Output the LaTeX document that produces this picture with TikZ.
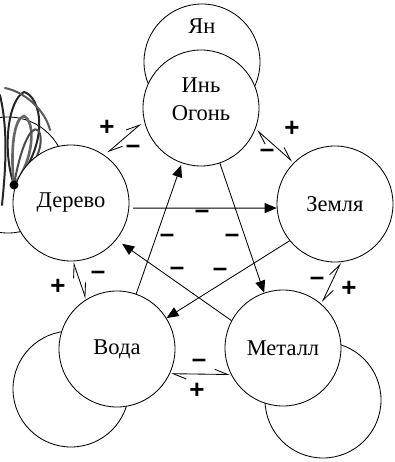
\documentclass[tikz,border=0pt]{standalone}
\usepackage{fontspec}
\setmainfont{Liberation Serif}
\newfontfamily\signfont{Liberation Sans}
\usetikzlibrary{arrows.meta}
\begin{document}
\begin{tikzpicture}[x=1pt,y=-1pt,
  elem/.style={circle,draw,fill=white,line width=0.85pt,minimum size=116pt,inner sep=0pt,font=\fontsize{22.5}{27}\selectfont},
  txt/.style={font=\fontsize{22.5}{28}\selectfont,inner sep=0pt,align=center},
  main/.style={line width=0.85pt,-{Triangle[length=12pt,width=10pt]}},
  adj/.style={line width=0.85pt,{Straight Barb[harpoon,length=13pt,width=10pt]}-{Straight Barb[harpoon,length=13pt,width=10pt]}},
  sign/.style={font=\signfont\bfseries\fontsize{26}{26}\selectfont,inner sep=0pt},
  scrib/.style={line width=2pt,black!85,line cap=round}
]
\useasboundingbox (0,0) rectangle (394,462);
\fill[white] (0,0) rectangle (394,462);
% companion circles
\node[elem] (yang) at (202,62) {};
\node[elem] (treeS) at (8,175) {};
\node[elem] (waterS) at (71,389) {};
\node[elem] (metalS) at (323,400) {};
% scribble
\draw[scrib] (14,185) .. controls (2,150) and (8,100) .. (24,92) .. controls (40,96) and (52,140) .. (14,185);
\draw[scrib,black!60,line width=2.6pt] (14,185) .. controls (10,150) and (14,118) .. (24,116) .. controls (36,122) and (34,160) .. (14,185);
\draw[scrib,black!70] (14,185) .. controls (20,150) and (30,125) .. (38,130) .. controls (46,140) and (36,170) .. (14,185);
\draw[scrib] (0,95) .. controls (8,130) and (6,165) .. (2,205);
\draw[scrib,black!65] (5,88) .. controls (25,92) and (45,110) .. (50,130);
% main circles
\node[elem] (fire) at (201,108) {};
\node[elem] (tree) at (71,203) {Дерево};
\node[elem] (earth) at (335,204) {Земля};
\node[elem] (water) at (117,349) {Вода};
\node[elem] (metal) at (283,348) {Металл};
\fill (14,185) circle (4.5);
\node[txt] (yangT) at (202,26) {Ян};
\node[txt] (fireT) at (201,99) {Инь\\Огонь};
% generating / controlling arrows
\draw[main,shorten <=4pt] (tree.-5) -- (earth.184);
\draw[main,shorten >=2pt] (water) -- (fire);
\draw[main] (fire) -- (metal);
\draw[main,shorten >=7pt] (metal.152.6) -- (tree.-39.5);
\draw[main] (earth.219.3) -- (water.32.4);
% adjacent pairs
\draw[adj,shorten <=4pt,shorten >=4pt] (tree.55.3) -- (fire.193.1);
\draw[adj,shorten <=2pt,shorten >=2pt] (fire.-21.4) -- (earth.135);
\draw[adj,shorten <=1pt,shorten >=2pt] (earth.-84.2) -- (metal.49.7);
\draw[adj,shorten <=1pt,shorten >=1pt] (metal.207.8) -- (water.-25.3);
\draw[adj,shorten <=1pt,shorten >=1pt] (water.122.5) -- (tree.-88);
% signs
\node[sign] (s1) at (202,214) {–};
\node[sign] (s2) at (167,238) {–};
\node[sign] (s3) at (232,238) {–};
\node[sign] (s4) at (177,271) {–};
\node[sign] (s5) at (220,272) {–};
\node[sign] (p1) at (107,128) {+};
\node[sign] (m1) at (133,149) {–};
\node[sign] (p2) at (292,129) {+};
\node[sign] (m2) at (267,153) {–};
\node[sign] (m3) at (317,281) {–};
\node[sign] (p3) at (349,289) {+};
\node[sign] (m4) at (199,363) {–};
\node[sign] (p4) at (197,391) {+};
\node[sign] (p5) at (58,287) {+};
\node[sign] (m5) at (98,275) {–};
\end{tikzpicture}
\end{document}
